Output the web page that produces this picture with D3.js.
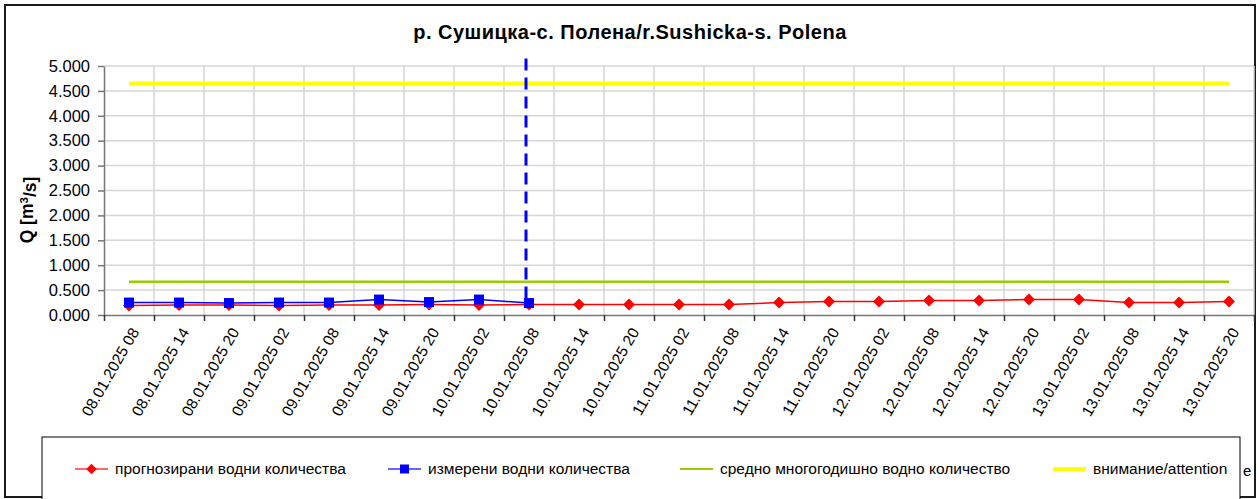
<html>

<head>
    <meta charset="utf-8">
    <title>Sushicka - Polena</title>
    <style>
        body {
            margin: 0;
            background: #ffffff;
        }

        text {
            font-family: "Liberation Sans", Arial, sans-serif;
        }
    </style>
</head>

<body>
    <div id="my_dataviz"></div>

    <script src="https://d3js.org/d3.v7.min.js"></script>
    <script>

        // categories (date + hour)
        var categories = [
            "08.01.2025 08", "08.01.2025 14", "08.01.2025 20",
            "09.01.2025 02", "09.01.2025 08", "09.01.2025 14", "09.01.2025 20",
            "10.01.2025 02", "10.01.2025 08", "10.01.2025 14", "10.01.2025 20",
            "11.01.2025 02", "11.01.2025 08", "11.01.2025 14", "11.01.2025 20",
            "12.01.2025 02", "12.01.2025 08", "12.01.2025 14", "12.01.2025 20",
            "13.01.2025 02", "13.01.2025 08", "13.01.2025 14", "13.01.2025 20"
        ];

        // forecast (red)
        var forecast = [0.19, 0.20, 0.20, 0.19, 0.20, 0.20, 0.21, 0.20, 0.21, 0.21, 0.21, 0.21,
            0.21, 0.25, 0.27, 0.27, 0.29, 0.29, 0.31, 0.31, 0.25, 0.25, 0.27];

        // measured (blue) - only up to 10.01.2025 08
        var measured = [0.25, 0.25, 0.24, 0.25, 0.25, 0.31, 0.26, 0.31, 0.24];

        var meanValue = 0.67;      // средно многогодишно
        var attentionValue = 4.65; // внимание
        var nowCategory = "10.01.2025 08";

        var yTicks = [0, 0.5, 1, 1.5, 2, 2.5, 3, 3.5, 4, 4.5, 5];

        var legendLabels = [
            "прогнозирани водни количества",
            "измерени водни количества",
            "средно многогодишно водно количество",
            "внимание/attention"
        ];

        var W = 1258, H = 499;
        var plot = { left: 104, right: 1254, top: 66, bottom: 315 };

        var svg = d3.select("#my_dataviz")
            .append("svg")
            .attr("width", W)
            .attr("height", H);

        // outer frame
        svg.append("rect")
            .attr("x", 5)
            .attr("y", 5)
            .attr("width", 1250)
            .attr("height", 492)
            .attr("fill", "white")
            .attr("stroke", "#1a1a1a")
            .attr("stroke-width", 2);

        var x = d3.scaleBand()
            .domain(categories)
            .range([plot.left, plot.right])
            .padding(0);

        var xIdx = d3.scaleLinear()
            .domain([0, categories.length])
            .range([plot.left, plot.right]);

        var y = d3.scaleLinear()
            .domain([0, 5])
            .range([plot.bottom, plot.top]);

        function cx(d) { return x(d) + x.bandwidth() / 2; }

        // grid lines
        var boundaries = d3.range(1, categories.length + 1);
        svg.append("g")
            .selectAll("line")
            .data(boundaries)
            .enter()
            .append("line")
            .attr("x1", function (d) { return xIdx(d); })
            .attr("x2", function (d) { return xIdx(d); })
            .attr("y1", y(5))
            .attr("y2", y(0))
            .attr("stroke", "#d6d6d6")
            .attr("stroke-width", 1.5);

        svg.append("g")
            .selectAll("line")
            .data(yTicks.slice(1))
            .enter()
            .append("line")
            .attr("x1", plot.left)
            .attr("x2", plot.right)
            .attr("y1", function (d) { return y(d); })
            .attr("y2", function (d) { return y(d); })
            .attr("stroke", "#d6d6d6")
            .attr("stroke-width", 1.5);

        // Y axis
        var yAxis = svg.append("g")
            .attr("transform", "translate(" + plot.left + ",0)")
            .call(d3.axisLeft(y).tickValues(yTicks).tickFormat(d3.format(".3f")).tickSize(6).tickSizeOuter(0));
        yAxis.select(".domain").attr("stroke", "#777").attr("stroke-width", 1.5);
        yAxis.selectAll(".tick line").attr("stroke", "#777").attr("stroke-width", 1.5);
        yAxis.selectAll(".tick text")
            .attr("x", -14)
            .style("font-size", "16.5px")
            .style("font-family", "'Liberation Sans', Arial, sans-serif")
            .attr("fill", "#000");

        // X axis (ticks at boundaries)
        var xAxis = svg.append("g")
            .attr("transform", "translate(0," + plot.bottom + ")")
            .call(d3.axisBottom(xIdx).tickValues(d3.range(0, categories.length + 1)).tickFormat("").tickSize(6).tickSizeOuter(0));
        xAxis.select(".domain").attr("stroke", "#777").attr("stroke-width", 1.5);
        xAxis.selectAll(".tick line").attr("stroke", "#333").attr("stroke-width", 1.5);

        // X labels
        svg.append("g")
            .selectAll("text")
            .data(categories)
            .enter()
            .append("text")
            .attr("transform", function (d) { return "translate(" + (cx(d) + 6) + "," + (plot.bottom + 14) + ") rotate(-60)"; })
            .attr("text-anchor", "end")
            .attr("dy", "0.35em")
            .style("font-size", "15.5px")
            .text(function (d) { return d; });

        // attention line
        svg.append("line")
            .attr("x1", cx(categories[0]))
            .attr("x2", cx(categories[categories.length - 1]))
            .attr("y1", y(attentionValue))
            .attr("y2", y(attentionValue))
            .attr("stroke", "#ffff00")
            .attr("stroke-width", 4);

        // mean line
        svg.append("line")
            .attr("x1", cx(categories[0]))
            .attr("x2", cx(categories[categories.length - 1]))
            .attr("y1", y(meanValue))
            .attr("y2", y(meanValue))
            .attr("stroke", "#99cc00")
            .attr("stroke-width", 2.5);

        // now line
        svg.append("line")
            .attr("x1", cx(nowCategory) - 3)
            .attr("x2", cx(nowCategory) - 3)
            .attr("y1", y(5.15))
            .attr("y2", y(0.28))
            .attr("stroke", "#0000ff")
            .attr("stroke-width", 3)
            .attr("stroke-dasharray", "12,7");

        var line = d3.line()
            .x(function (d, i) { return cx(categories[i]); })
            .y(function (d) { return y(d); });

        // forecast
        svg.append("path")
            .datum(forecast)
            .attr("d", line)
            .attr("fill", "none")
            .attr("stroke", "#ff0000")
            .attr("stroke-width", 1.5);

        var diamond = d3.symbol().type(d3.symbolDiamond2).size(90);
        svg.append("g")
            .selectAll("path")
            .data(forecast)
            .enter()
            .append("path")
            .attr("d", diamond)
            .attr("transform", function (d, i) { return "translate(" + cx(categories[i]) + "," + y(d) + ")"; })
            .attr("fill", "#ff0000");

        // measured
        svg.append("path")
            .datum(measured)
            .attr("d", line)
            .attr("fill", "none")
            .attr("stroke", "#0000ff")
            .attr("stroke-width", 1.5);

        svg.append("g")
            .selectAll("rect")
            .data(measured)
            .enter()
            .append("rect")
            .attr("x", function (d, i) { return cx(categories[i]) - 5; })
            .attr("y", function (d) { return y(d) - 5; })
            .attr("width", 10)
            .attr("height", 10)
            .attr("fill", "#0000ff");

        // title
        svg.append("text")
            .attr("x", 630)
            .attr("y", 39)
            .attr("text-anchor", "middle")
            .style("font-size", "20px")
            .style("letter-spacing", "0.5px")
            .style("font-weight", "bold")
            .text("р. Сушицка-с. Полена/r.Sushicka-s. Polena");

        // y title
        var yTitle = svg.append("text")
            .attr("transform", "translate(33,210) rotate(-90)")
            .attr("text-anchor", "middle")
            .style("font-size", "17.5px")
            .style("font-weight", "bold");
        yTitle.append("tspan").text("Q [m");
        yTitle.append("tspan").attr("dy", "-0.45em").style("font-size", "11.5px").text("3");
        yTitle.append("tspan").attr("dy", "0.45em").text("/s]");

        // legend
        var legendX = [75, 388, 680, 1053];
        var legendColors = ["#ff0000", "#0000ff", "#99cc00", "#ffff00"];
        var legendY = 469;

        svg.append("rect")
            .attr("x", 42)
            .attr("y", 437)
            .attr("width", 1198)
            .attr("height", 70)
            .attr("fill", "white")
            .attr("stroke", "#000")
            .attr("stroke-width", 1);

        var items = svg.append("g")
            .selectAll("g")
            .data(legendLabels)
            .enter()
            .append("g")
            .attr("transform", function (d, i) { return "translate(" + legendX[i] + "," + legendY + ")"; });

        items.append("line")
            .attr("x1", 0)
            .attr("x2", 33)
            .attr("stroke", function (d, i) { return legendColors[i]; })
            .attr("stroke-opacity", function (d, i) { return i < 2 ? 0.6 : 1; })
            .attr("stroke-width", function (d, i) { return i == 3 ? 4 : 2; });

        items.filter(function (d, i) { return i == 0; })
            .append("path")
            .attr("d", d3.symbol().type(d3.symbolDiamond2).size(70))
            .attr("transform", "translate(16.5,0)")
            .attr("fill", "#ff0000");

        items.filter(function (d, i) { return i == 1; })
            .append("rect")
            .attr("x", 12)
            .attr("y", -4.5)
            .attr("width", 9)
            .attr("height", 9)
            .attr("fill", "#0000ff");

        items.append("text")
            .attr("x", 40)
            .attr("dy", "0.35em")
            .style("font-size", "15.5px")
            .text(function (d) { return d; });

        // clipped trailing text at right edge
        svg.append("text")
            .attr("x", 1243)
            .attr("y", 476)
            .style("font-size", "15px")
            .text("e");

    </script>
</body>

</html>
